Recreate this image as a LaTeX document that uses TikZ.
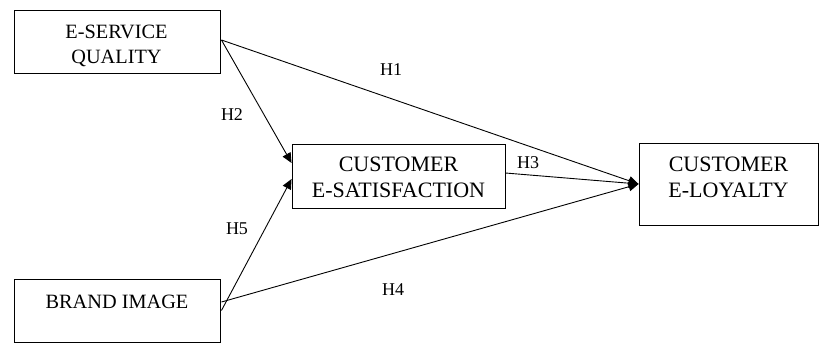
\documentclass[tikz,border=0pt]{standalone}
\usepackage{fontspec}
\setmainfont{Liberation Serif}
\usetikzlibrary{arrows.meta,calc}
\begin{document}
\begin{tikzpicture}[x=1pt,y=-1pt,
  box/.style={draw,line width=0.9pt,inner sep=0pt},
  txtA/.style={align=center,inner sep=0pt,anchor=north,font=\fontsize{20.3}{24.5}\selectfont},
  txtB/.style={align=center,inner sep=0pt,anchor=north,font=\fontsize{22}{26}\selectfont},
  conn/.style={line width=0.9pt,-{Triangle[length=10pt,width=9pt]}},
  hlab/.style={font=\fontsize{18}{20}\selectfont,inner sep=0pt}]
\useasboundingbox (0,0) rectangle (819,343);
\node[box,minimum width=206pt,minimum height=63pt] (esq) at (117,41.5) {};
\node[box,minimum width=213pt,minimum height=64pt] (sat) at (398.5,176) {};
\node[box,minimum width=179pt,minimum height=82pt] (loy) at (728.5,184) {};
\node[box,minimum width=206pt,minimum height=63pt] (brand) at (117,310.5) {};
\node[txtA] (esqt) at (116.5,25) {E-SERVICE\\QUALITY};
\node[txtB] (satt) at (398.5,157) {CUSTOMER\\E-SATISFACTION};
\node[txtB] (loyt) at (728.5,157) {CUSTOMER\\E-LOYALTY};
\node[txtA] (brandt) at (117,295) {BRAND IMAGE};
\coordinate (esqout) at ($(esq.east)+(1,-1.5)$);
\coordinate (h2end) at ($(sat.west)+(0,-13)$);
\coordinate (h5end) at ($(sat.west)+(0,3)$);
\coordinate (h4start) at ($(brand.east)+(1,-8.5)$);
\coordinate (h5start) at ($(brand.east)+(1,0)$);
\coordinate (h3start) at ($(sat.east)+(0,-3)$);
\draw[conn] (esqout) -- (loy.west);
\draw[conn] (esqout) -- (h2end);
\draw[conn] (h5start) -- (h5end);
\draw[conn] (h4start) -- (loy.west);
\draw[conn] (h3start) -- (loy.west);
\node[hlab] (h1) at (391,70) {H1};
\node[hlab] (h2) at (232,115) {H2};
\node[hlab] (h3) at (528,163) {H3};
\node[hlab] (h5) at (237,229) {H5};
\node[hlab] (h4) at (393,290) {H4};
\end{tikzpicture}
\end{document}
